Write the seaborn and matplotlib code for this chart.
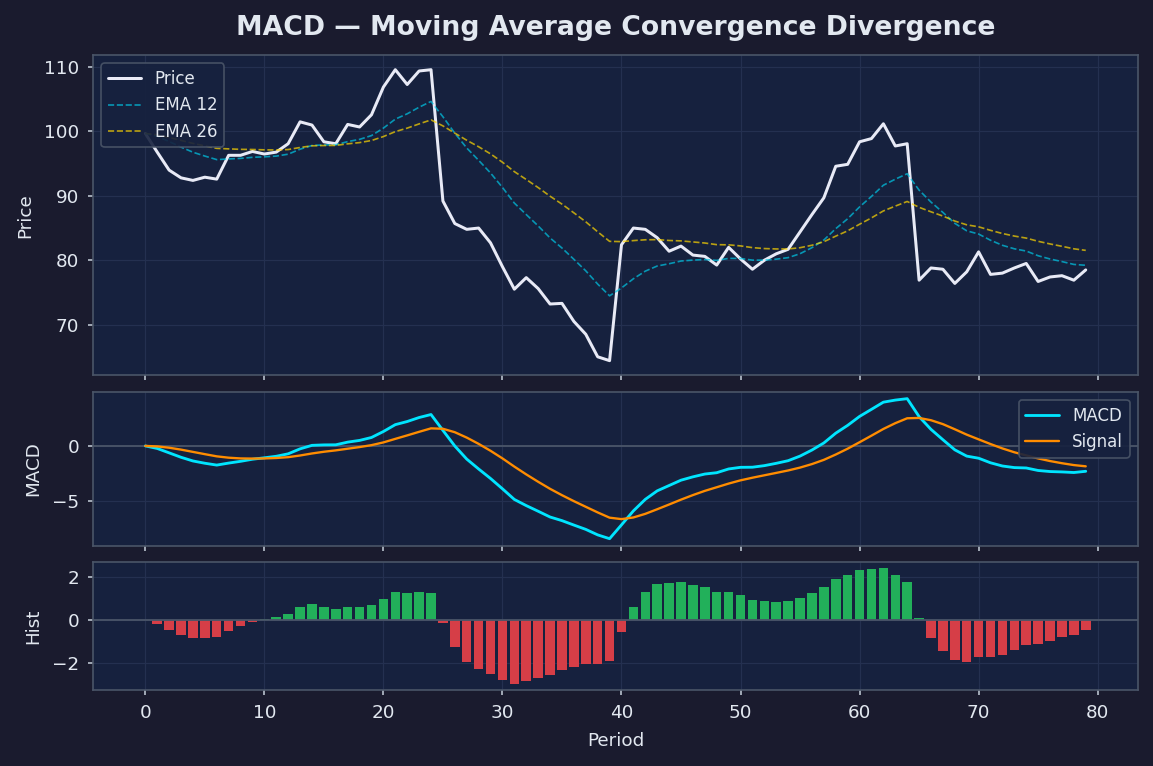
import numpy as np
import pandas as pd
import matplotlib
matplotlib.use("Agg")
import matplotlib.pyplot as plt
import seaborn as sns

# ---- data ----
periods = list(range(80))
price = [
    99.7, 96.8, 94.0, 92.8, 92.4, 92.9, 92.6, 96.3, 96.3, 96.9,
    96.5, 96.8, 98.1, 101.5, 101.0, 98.4, 98.1, 101.1, 100.7, 102.6,
    106.9, 109.6, 107.3, 109.4, 109.6, 89.2, 85.7, 84.8, 85.0, 82.7,
    79.0, 75.5, 77.3, 75.6, 73.2, 73.3, 70.5, 68.5, 65.0, 64.4,
    82.4, 85.0, 84.8, 83.5, 81.4, 82.2, 80.8, 80.6, 79.25, 82.0,
    80.2, 78.6, 80.0, 81.0, 81.7, 84.4, 87.1, 89.7, 94.6, 94.9,
    98.4, 98.9, 101.2, 97.75, 98.1, 76.9, 78.8, 78.6, 76.4, 78.2,
    81.3, 77.8, 78.0, 78.8, 79.5, 76.7, 77.4, 77.6, 76.9, 78.5,
]
ema_spans = [12, 26]
signal_span = 9
xticks = [0, 10, 20, 30, 40, 50, 60, 70, 80]

df = pd.DataFrame({"Period": periods, "Price": price})
df["EMA 12"] = df["Price"].ewm(span=ema_spans[0], adjust=False).mean()
df["EMA 26"] = df["Price"].ewm(span=ema_spans[1], adjust=False).mean()
df["MACD"] = df["EMA 12"] - df["EMA 26"]
df["Signal"] = df["MACD"].ewm(span=signal_span, adjust=False).mean()
df["Hist"] = df["MACD"] - df["Signal"]

# ---- style ----
FIG_BG = "#1a1b2e"
AX_BG = "#16213e"
SPINE = "#4a5568"
TEXT = "#e2e8f0"
GRID = "#243050"

sns.set_theme(style="darkgrid")
plt.rcParams.update({
    "figure.facecolor": FIG_BG,
    "axes.facecolor": AX_BG,
    "axes.edgecolor": SPINE,
    "axes.labelcolor": TEXT,
    "axes.linewidth": 1.0,
    "axes.labelpad": 6,
    "grid.color": GRID,
    "grid.linewidth": 0.7,
    "xtick.color": "#cbd5e0",
    "ytick.color": "#cbd5e0",
    "xtick.labelcolor": TEXT,
    "ytick.labelcolor": TEXT,
    "xtick.bottom": True,
    "ytick.left": True,
    "xtick.major.size": 3.2,
    "ytick.major.size": 3.2,
    "xtick.major.pad": 5,
    "ytick.major.pad": 5,
    "xtick.major.width": 0.9,
    "ytick.major.width": 0.9,
    "xtick.labelsize": 11,
    "ytick.labelsize": 11,
    "axes.labelsize": 11,
    "text.color": TEXT,
    "legend.fontsize": 10,
    "patch.edgecolor": "none",
})
plt.rcParams["font.family"] = ["DejaVu Sans"]

fig, axes = plt.subplots(
    3, 1, figsize=(1153 / 120, 766 / 120), dpi=120, sharex=True,
    gridspec_kw={"height_ratios": [320, 154, 128]},
)
fig.subplots_adjust(left=0.0807, right=0.987, top=0.928, bottom=0.099, hspace=0.082)
ax1, ax2, ax3 = axes

for ax in axes:
    for s in ax.spines.values():
        s.set_visible(True)
        s.set_color(SPINE)

# Price panel
sns.lineplot(data=df, x="Period", y="Price", ax=ax1, color="#e8eaf6", lw=1.8, label="Price")
sns.lineplot(data=df, x="Period", y="EMA 12", ax=ax1, color="#00c8e6", lw=1.0,
             alpha=0.7, linestyle="--", label="EMA 12")
sns.lineplot(data=df, x="Period", y="EMA 26", ax=ax1, color="#ffd700", lw=1.0,
             alpha=0.7, linestyle="--", label="EMA 26")
ax1.set_ylabel("Price")
ax1.set_xlabel("")
ax1.legend(loc="upper left", facecolor=AX_BG, edgecolor=SPINE, framealpha=0.9,
           labelcolor=TEXT)
ax1.set_title("MACD — Moving Average Convergence Divergence", fontsize=16,
              fontweight="bold", color=TEXT, pad=12)

# MACD panel
ax2.axhline(0, color=SPINE, lw=1.1, zorder=1.6)
sns.lineplot(data=df, x="Period", y="MACD", ax=ax2, color="#00e5ff", lw=1.7, label="MACD")
sns.lineplot(data=df, x="Period", y="Signal", ax=ax2, color="#ff8c00", lw=1.4, label="Signal")
ax2.set_ylabel("MACD")
ax2.set_xlabel("")
ax2.legend(loc="upper right", facecolor=AX_BG, edgecolor=SPINE, framealpha=0.9,
           labelcolor=TEXT)

# Histogram panel
bar_colors = ["#22b05a" if v >= 0 else "#d63e47" for v in df["Hist"]]
ax3.bar(df["Period"], df["Hist"], width=0.8, color=bar_colors, edgecolor="none",
        linewidth=0, zorder=1)
ax3.axhline(0, color=SPINE, lw=1.1, zorder=1.6)
ax3.set_ylabel("Hist")
ax3.set_xlabel("Period")
ax3.set_xticks(xticks)

for ax in axes:
    ax.grid(True, color=GRID, lw=0.7)

fig.savefig("out.png", dpi=120, facecolor=FIG_BG)
